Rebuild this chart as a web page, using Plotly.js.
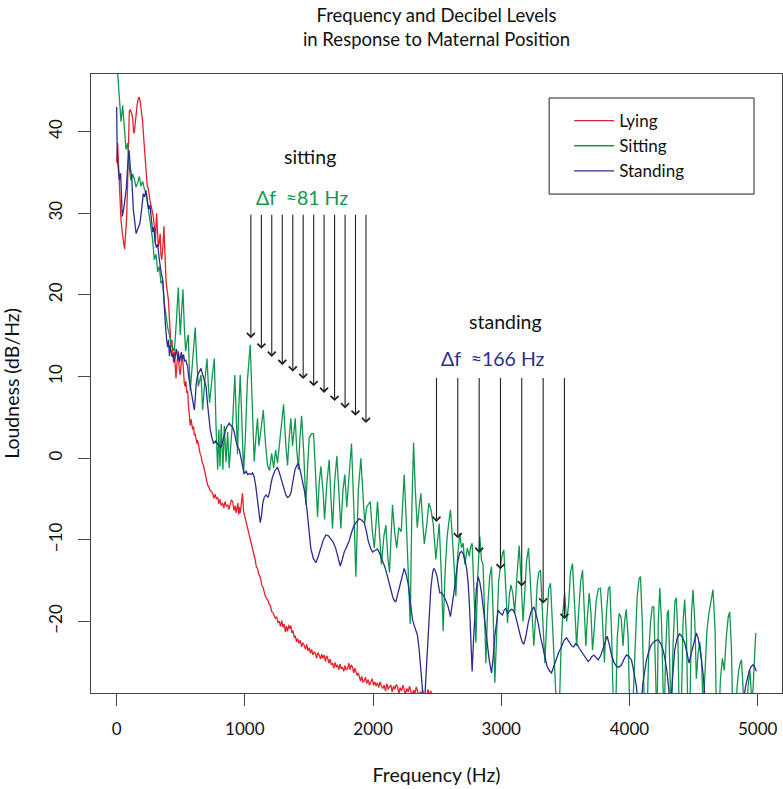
<!DOCTYPE html>
<html><head><meta charset="utf-8">
<script src="https://cdn.plot.ly/plotly-3.0.1.min.js"></script>
<style>html,body{margin:0;padding:0;background:#fff}#chart{width:783px;height:789px}</style>
</head><body><div id="chart"></div>
<script>
// ---- data (frequency Hz, loudness dB/Hz) ----
const seriesNames = ['Lying', 'Sitting', 'Standing'];
const seriesColors = ['#E4222B', '#10984E', '#2B2F8C'];

const lyingData = [
[0,36.2],[8,38.6],[16,35.5],[21,33.7],[34,29.2],[45,27.5],[55,26.0],[62,25.6],[70,27.5],[78,29.5],[86,34.0],[91,37.5],[99,42.5],[107,42.7],[117,42.0],[125,41.7],[132,40.0],[138,39.8],[145,41.0],[151,42.2],[160,43.3],[170,44.1],[177,44.2],[185,43.5],[195,42.2],[203,41.2],[212,39.0],[221,36.8],[230,35.0],[239,33.3],[247,33.0],[254,32.0],[260,31.6],[268,31.0],[276,30.5],[286,29.6],[294,28.4],[302,26.3],[307,28.6],[312,30.0],[318,28.0],[325,25.9],[333,26.5],[340,27.5],[345,25.0],[351,24.3],[359,25.5],[365,27.5],[369,28.4],[372,27.0],[378,23.5],[385,21.8],[392,20.8],[403,19.5],[412,17.0],[418,15.0],[424,13.6],[431,14.5],[437,12.5],[444,11.7],[450,13.0],[456,11.0],[463,9.8],[470,11.5],[476,12.8],[481,13.1],[488,11.0],[496,10.2],[503,11.5],[509,12.6],[515,12.2],[522,10.0],[528,9.2],[533,8.8],[540,9.4],[547,8.0],[554,8.3],[560,6.5],[567,5.0],[574,4.0],[580,4.8],[587,3.6],[593,3.5],[600,3.9],[606,2.8],[612,3.0],[619,2.5],[626,1.8],[632,2.2],[640,1.3],[645,1.1],[652,0.5],[660,0.2],[668,-0.6],[676,-0.8],[684,-1.4],[692,-2.2],[700,-2.6],[710,-3.3],[720,-3.5],[730,-4.0],[740,-4.1],[749,-4.3],[758,-4.9],[768,-4.4],[778,-5.0],[788,-4.8],[797,-5.6],[806,-5.0],[816,-5.8],[827,-5.5],[836,-6.1],[845,-5.3],[855,-5.9],[866,-5.7],[875,-6.3],[885,-5.6],[895,-5.1],[905,-5.3],[915,-6.4],[925,-5.8],[932,-6.7],[938,-6.2],[946,-5.5],[952,-6.9],[958,-6.0],[964,-6.7],[970,-5.8],[976,-4.9],[982,-4.3],[990,-6.5],[1001,-7.2],[1011,-7.9],[1021,-8.6],[1030,-9.3],[1038,-9.6],[1047,-10.1],[1055,-10.9],[1064,-11.3],[1073,-12.0],[1080,-12.4],[1090,-13.3],[1099,-13.5],[1108,-14.2],[1116,-14.4],[1125,-14.9],[1133,-15.6],[1142,-15.8],[1151,-16.4],[1160,-16.9],[1170,-17.2],[1180,-17.4],[1190,-17.9],[1200,-18.1],[1210,-18.8],[1220,-18.9],[1229,-19.3],[1238,-19.6],[1248,-19.4],[1258,-20.1],[1268,-20.0],[1278,-20.6],[1288,-19.9],[1297,-20.7],[1307,-20.3],[1316,-21.3],[1324,-20.6],[1333,-21.2],[1342,-20.4],[1350,-20.9],[1359,-20.5],[1367,-21.4],[1376,-21.1],[1385,-21.9],[1394,-21.8],[1403,-22.5],[1412,-22.1],[1424,-22.7],[1433,-22.3],[1443,-23.1],[1452,-22.6],[1463,-22.9],[1473,-23.4],[1483,-22.8],[1492,-23.6],[1502,-23.2],[1512,-23.9],[1521,-23.4],[1531,-24.1],[1541,-23.7],[1550,-23.9],[1560,-24.5],[1570,-23.8],[1580,-24.1],[1590,-24.6],[1600,-24.0],[1609,-24.5],[1619,-24.1],[1629,-24.9],[1638,-24.2],[1645,-24.4],[1655,-25.1],[1665,-24.6],[1675,-25.3],[1684,-25.1],[1694,-25.7],[1704,-25.0],[1714,-25.6],[1723,-25.3],[1733,-25.9],[1743,-25.2],[1752,-25.8],[1762,-25.6],[1772,-26.1],[1781,-25.4],[1791,-25.9],[1801,-25.8],[1811,-25.1],[1820,-25.9],[1830,-25.3],[1840,-25.6],[1850,-26.3],[1858,-25.7],[1866,-26.1],[1876,-26.6],[1885,-26.3],[1892,-26.8],[1902,-27.3],[1912,-26.7],[1921,-27.4],[1931,-27.3],[1941,-26.8],[1951,-27.6],[1962,-27.1],[1972,-27.8],[1983,-27.3],[1993,-27.0],[2004,-27.8],[2014,-27.4],[2024,-27.9],[2035,-27.5],[2045,-28.1],[2055,-27.4],[2066,-27.9],[2076,-28.2],[2087,-27.8],[2097,-28.5],[2108,-27.6],[2118,-28.3],[2129,-28.0],[2139,-27.8],[2149,-28.6],[2160,-27.9],[2170,-28.3],[2181,-27.7],[2191,-28.0],[2201,-28.8],[2212,-28.1],[2222,-28.5],[2233,-27.8],[2243,-28.3],[2253,-28.9],[2264,-28.2],[2274,-28.6],[2285,-27.9],[2295,-28.5],[2305,-29.2],[2316,-28.4],[2326,-28.8],[2337,-28.0],[2347,-28.5],[2357,-29.4],[2368,-28.6],[2378,-29.0],[2388,-28.4],[2399,-29.5],[2409,-30.0],[2420,-29.0],[2430,-28.3],[2441,-29.2],[2451,-28.5],[2462,-29.6],[2472,-28.8],[2483,-30.0]
];

const sittingData = [
[0,49.0],[21,44.4],[34,41.2],[47,43.2],[60,40.8],[73,37.8],[86,38.6],[99,35.4],[112,34.0],[125,34.8],[138,34.2],[151,33.2],[164,33.7],[177,34.5],[190,33.3],[203,33.9],[216,33.0],[229,32.4],[242,31.1],[255,29.8],[268,28.2],[281,26.7],[294,24.3],[307,25.0],[320,22.8],[333,23.5],[346,21.4],[359,21.8],[372,19.0],[385,17.5],[398,16.0],[411,15.2],[424,14.1],[437,13.6],[450,13.1],[465,16.5],[481,20.9],[496,15.1],[507,17.5],[517,20.7],[528,16.0],[538,13.1],[549,14.3],[559,15.1],[567,11.0],[574,8.3],[583,10.0],[593,12.2],[603,14.5],[613,16.0],[625,12.0],[637,8.8],[648,9.5],[658,10.2],[665,8.0],[671,5.9],[688,9.5],[705,12.2],[715,9.0],[725,6.8],[744,9.8],[762,12.2],[775,4.0],[788,-1.4],[797,3.5],[806,-1.0],[816,4.2],[829,-1.4],[840,4.0],[853,-0.5],[866,3.2],[878,-1.2],[892,2.0],[905,4.5],[922,10.2],[932,4.0],[943,0.5],[952,6.0],[964,10.2],[976,5.0],[990,-1.9],[1005,3.0],[1020,9.5],[1042,13.9],[1058,6.0],[1073,-0.4],[1086,2.5],[1099,4.9],[1110,1.5],[1125,3.5],[1144,5.9],[1160,2.0],[1177,-0.9],[1193,-1.5],[1209,0.6],[1225,-1.2],[1240,1.0],[1255,-0.6],[1270,2.0],[1285,4.5],[1302,6.6],[1318,2.0],[1333,-0.9],[1346,2.5],[1359,4.9],[1372,1.5],[1383,3.0],[1393,4.9],[1405,1.0],[1418,-1.4],[1430,2.5],[1443,5.2],[1460,0.5],[1476,-5.7],[1490,-1.0],[1502,2.5],[1520,3.0],[1536,3.0],[1552,-2.0],[1567,-7.2],[1580,-3.0],[1593,-1.0],[1610,-4.0],[1622,-7.5],[1640,-3.0],[1658,-0.2],[1672,-5.0],[1684,-8.6],[1700,-3.0],[1718,0.3],[1733,-4.0],[1749,-8.6],[1765,-4.0],[1780,-2.0],[1795,-6.0],[1810,-3.0],[1832,1.8],[1850,-6.0],[1866,-14.5],[1885,-4.0],[1905,0.0],[1920,-4.0],[1935,-8.0],[1950,-6.0],[1978,-5.3],[1995,-9.0],[2010,-11.0],[2035,-5.3],[2050,-9.5],[2065,-13.0],[2085,-9.5],[2100,-8.2],[2115,-12.0],[2128,-14.0],[2152,-5.7],[2168,-9.0],[2185,-11.0],[2200,-8.5],[2220,-9.0],[2243,-2.0],[2260,-8.0],[2276,-14.0],[2290,-20.3],[2303,-6.0],[2316,1.9],[2330,-4.0],[2345,-8.5],[2360,-6.0],[2373,-4.3],[2388,-8.0],[2400,-10.5],[2420,-8.0],[2435,-5.5],[2451,-6.2],[2469,-8.0],[2490,-12.4],[2516,-8.0],[2532,-14.0],[2547,-21.2],[2562,-14.0],[2578,-9.6],[2590,-8.0],[2604,-6.3],[2620,-10.0],[2633,-13.0],[2646,-16.9],[2660,-12.0],[2677,-9.2],[2690,-11.0],[2703,-10.4],[2716,-13.0],[2735,-11.0],[2750,-12.0],[2762,-10.8],[2773,-10.4],[2788,-16.0],[2802,-22.6],[2818,-14.0],[2833,-9.6],[2846,-12.5],[2858,-13.0],[2868,-18.0],[2880,-25.1],[2895,-18.0],[2910,-14.5],[2924,-13.3],[2937,-19.0],[2950,-27.5],[2965,-22.0],[2980,-15.0],[2992,-13.5],[3005,-12.0],[3020,-11.2],[3034,-15.0],[3049,-20.2],[3062,-17.0],[3075,-15.5],[3090,-16.5],[3105,-19.0],[3120,-15.0],[3140,-10.7],[3155,-15.0],[3170,-20.0],[3185,-16.0],[3198,-12.5],[3213,-11.0],[3228,-15.5],[3240,-19.0],[3254,-23.0],[3268,-19.5],[3280,-15.5],[3292,-14.0],[3306,-13.7],[3322,-19.0],[3340,-25.1],[3355,-20.0],[3370,-16.0],[3384,-15.3],[3398,-20.0],[3412,-26.0],[3425,-28.5],[3440,-32],[3451,-32],[3465,-24.0],[3480,-19.0],[3495,-16.5],[3510,-20.0],[3525,-18.0],[3540,-14.0],[3556,-12.9],[3572,-17.5],[3588,-23.0],[3603,-19.0],[3620,-15.0],[3634,-13.7],[3648,-18.5],[3660,-23.0],[3672,-19.5],[3686,-16.5],[3700,-19.0],[3712,-23.5],[3725,-21.0],[3740,-17.5],[3757,-16.0],[3774,-15.9],[3790,-20.0],[3805,-25.0],[3820,-19.0],[3835,-16.0],[3847,-15.7],[3862,-22.0],[3878,-33],[3890,-33],[3905,-22.0],[3920,-19.0],[3935,-19.5],[3950,-23.0],[3962,-20.0],[3975,-18.5],[3990,-22.0],[4005,-33],[4020,-33],[4040,-24.0],[4060,-17.0],[4075,-14.8],[4086,-14.5],[4100,-20.0],[4112,-27.0],[4120,-33],[4135,-33],[4150,-24.0],[4165,-20.0],[4178,-18.2],[4190,-18.2],[4205,-25.0],[4215,-33],[4225,-20.0],[4237,-15.9],[4250,-20.0],[4262,-27.0],[4270,-33],[4282,-24.0],[4295,-19.0],[4304,-18.6],[4315,-24.0],[4326,-33],[4340,-23.0],[4355,-17.5],[4366,-17.1],[4378,-22.0],[4390,-33],[4402,-33],[4418,-20.0],[4431,-17.3],[4445,-22.0],[4458,-33],[4470,-33],[4484,-19.0],[4496,-16.1],[4510,-20.0],[4522,-27.0],[4535,-24.0],[4548,-22.5],[4562,-24.5],[4575,-31],[4590,-25.0],[4605,-21.0],[4620,-19.0],[4636,-17.5],[4652,-16.1],[4668,-21.0],[4680,-33],[4695,-33],[4710,-27.0],[4725,-24.5],[4740,-26.0],[4755,-22.0],[4770,-19.5],[4782,-18.8],[4795,-23.0],[4808,-33],[4822,-33],[4840,-28.0],[4852,-26.0],[4865,-25.0],[4874,-24.7],[4886,-28.0],[4898,-33],[4910,-33],[4925,-28.0],[4940,-26.0],[4955,-30.0],[4965,-28.0],[4975,-24.0],[4985,-21.4]
];

const standingData = [
[0,43.0],[5,36.9],[13,35.5],[21,34.1],[31,34.9],[44,29.6],[55,30.5],[65,31.6],[75,33.0],[87,36.0],[97,37.7],[107,35.5],[117,34.5],[130,30.5],[143,28.8],[152,27.5],[161,27.9],[172,28.5],[182,28.8],[195,30.5],[208,32.4],[218,32.0],[229,32.8],[240,31.5],[250,30.5],[260,31.0],[270,29.0],[281,27.7],[290,28.3],[300,26.5],[310,25.8],[320,26.2],[333,24.3],[342,23.0],[350,22.5],[359,21.9],[366,19.5],[372,18.0],[380,16.5],[390,14.5],[398,13.6],[405,14.5],[412,12.5],[418,13.8],[424,13.1],[432,12.4],[440,12.8],[450,11.9],[458,12.6],[465,13.4],[470,13.1],[477,12.0],[484,12.8],[490,11.8],[496,12.2],[505,13.0],[513,12.1],[522,12.7],[530,11.9],[540,12.0],[548,11.5],[554,11.2],[562,10.0],[572,9.0],[580,8.3],[590,7.0],[598,6.4],[606,5.9],[614,7.5],[620,9.0],[632,10.2],[645,10.6],[658,11.0],[670,10.3],[682,9.5],[697,8.8],[710,6.5],[720,4.8],[730,3.5],[742,2.6],[756,1.8],[770,2.1],[788,1.8],[800,1.5],[814,1.3],[826,2.0],[840,3.0],[852,3.6],[866,4.0],[878,4.3],[892,4.0],[905,3.8],[918,3.2],[932,2.0],[945,1.4],[957,1.0],[970,0.0],[982,-1.0],[995,-1.9],[1010,-1.6],[1022,-2.0],[1034,-1.9],[1048,-2.0],[1060,-1.8],[1073,-2.3],[1086,-3.5],[1099,-5.3],[1110,-7.0],[1120,-7.9],[1130,-7.0],[1140,-5.5],[1151,-4.8],[1165,-4.5],[1182,-4.8],[1195,-4.0],[1205,-3.0],[1216,-2.3],[1235,-1.5],[1255,-1.1],[1270,-1.8],[1283,-2.5],[1294,-3.1],[1310,-4.0],[1320,-4.5],[1333,-4.8],[1345,-4.7],[1359,-4.3],[1375,-3.0],[1391,-1.4],[1405,-0.9],[1417,-0.6],[1432,-1.5],[1450,-2.8],[1465,-4.0],[1484,-6.2],[1500,-8.5],[1515,-11.1],[1535,-12.3],[1554,-12.8],[1573,-12.0],[1593,-11.1],[1612,-10.0],[1632,-9.4],[1652,-9.5],[1671,-9.9],[1690,-10.3],[1710,-11.1],[1728,-12.3],[1744,-13.2],[1760,-12.4],[1775,-11.5],[1795,-10.8],[1814,-10.1],[1834,-9.0],[1853,-8.2],[1872,-7.8],[1892,-7.4],[1912,-7.6],[1931,-7.9],[1946,-8.8],[1962,-10.1],[1980,-11.0],[1996,-11.5],[2015,-11.3],[2035,-11.1],[2055,-11.8],[2074,-12.5],[2094,-13.4],[2113,-14.5],[2133,-15.8],[2152,-16.9],[2165,-17.4],[2178,-17.6],[2195,-16.5],[2212,-15.4],[2228,-14.2],[2243,-13.5],[2258,-14.2],[2274,-15.4],[2290,-17.5],[2308,-19.8],[2328,-20.8],[2347,-21.7],[2360,-23.5],[2373,-25.6],[2384,-28.0],[2394,-31],[2405,-29.0],[2420,-24.6],[2435,-19.5],[2451,-15.9],[2465,-14.0],[2474,-13.5],[2487,-13.8],[2500,-14.5],[2510,-15.5],[2521,-16.5],[2535,-16.5],[2552,-16.9],[2570,-17.5],[2586,-18.2],[2604,-19.4],[2620,-17.8],[2634,-16.1],[2650,-14.0],[2664,-12.4],[2677,-11.6],[2690,-11.4],[2703,-11.7],[2716,-12.4],[2730,-13.5],[2742,-15.3],[2752,-18.0],[2760,-21.0],[2767,-24.0],[2773,-26.1],[2783,-22.5],[2794,-19.0],[2806,-16.0],[2820,-14.5],[2833,-15.2],[2846,-16.5],[2860,-18.3],[2872,-20.2],[2890,-22.8],[2906,-24.7],[2924,-26.3],[2937,-24.5],[2950,-21.8],[2963,-20.0],[2976,-18.6],[2993,-19.0],[3010,-19.2],[3023,-18.6],[3036,-18.4],[3050,-19.0],[3062,-18.8],[3078,-18.5],[3093,-18.6],[3106,-19.0],[3119,-19.8],[3135,-21.0],[3150,-21.8],[3163,-22.5],[3176,-22.8],[3192,-21.8],[3210,-20.2],[3232,-18.8],[3254,-18.2],[3270,-19.0],[3288,-20.2],[3308,-22.0],[3327,-23.5],[3342,-24.6],[3358,-25.5],[3375,-26.0],[3392,-26.3],[3410,-25.5],[3426,-24.7],[3448,-23.8],[3470,-23.1],[3490,-22.3],[3509,-22.0],[3522,-22.4],[3535,-22.6],[3550,-23.0],[3566,-23.1],[3580,-22.7],[3592,-22.8],[3610,-23.3],[3626,-23.7],[3645,-24.2],[3665,-24.7],[3678,-24.9],[3691,-24.7],[3706,-24.3],[3722,-24.1],[3740,-24.5],[3756,-24.7],[3775,-24.2],[3795,-23.3],[3810,-22.5],[3826,-21.8],[3843,-22.8],[3860,-24.1],[3880,-25.0],[3899,-25.5],[3918,-25.6],[3938,-25.3],[3958,-24.6],[3977,-24.1],[3997,-24.3],[4016,-24.7],[4030,-25.8],[4042,-26.7],[4055,-28.0],[4068,-31],[4088,-31],[4105,-27.5],[4120,-25.8],[4133,-24.7],[4152,-23.6],[4172,-22.8],[4198,-22.4],[4224,-22.2],[4244,-22.7],[4263,-23.5],[4280,-24.8],[4294,-26.3],[4308,-28.5],[4320,-31],[4336,-27.0],[4353,-23.5],[4372,-22.0],[4392,-21.5],[4412,-21.9],[4431,-22.6],[4448,-23.8],[4465,-25.1],[4481,-24.0],[4496,-23.1],[4510,-22.0],[4522,-21.4],[4535,-22.0],[4548,-23.1],[4562,-24.8],[4574,-26.3],[4585,-28.5],[4595,-31],[4700,-31],[4880,-31],[4905,-28.0],[4920,-27.1],[4935,-26.0],[4950,-25.5],[4964,-25.3],[4978,-25.6],[4990,-26.1]
];

// annotation arrows: harmonic spacing markers
const sittingArrowFreq = [1047,1129,1210,1292,1374,1455,1537,1618,1700,1782,1863,1945];
const sittingArrowTip  = [14.7,13.4,12.4,11.4,10.6,9.7,8.8,8.0,7.0,6.1,5.2,4.3];
const sittingArrowTop  = 30.0;
const standingArrowFreq = [2495,2661,2828,2994,3160,3327,3493];
const standingArrowTip  = [-7.8,-9.8,-11.6,-13.6,-15.7,-17.8,-19.7];
const standingArrowTop  = 10.0;

const xTicks = [0,1000,2000,3000,4000,5000];
const yTicks = [-20,-10,0,10,20,30,40];

// ---- build ----
const FONT = 'Lato, "Open Sans", sans-serif';
const allData = [lyingData, sittingData, standingData];
const traces = allData.map((d, i) => ({
  type: 'scatter', mode: 'lines', name: seriesNames[i],
  x: d.map(p => p[0]), y: d.map(p => p[1]),
  line: {color: seriesColors[i], width: 1.3},
  hoverinfo: 'x+y+name'
}));

const arrowStyle = {xref: 'x', yref: 'y', axref: 'x', ayref: 'y', text: '', showarrow: true,
  arrowhead: 4, arrowsize: 1.4, arrowwidth: 1.1, arrowcolor: '#222'};
const annotations = [];
sittingArrowFreq.forEach((f, i) => annotations.push(Object.assign({
  x: f, y: sittingArrowTip[i], ax: f, ay: sittingArrowTop}, arrowStyle)));
standingArrowFreq.forEach((f, i) => annotations.push(Object.assign({
  x: f, y: standingArrowTip[i], ax: f, ay: standingArrowTop}, arrowStyle)));
annotations.push(
  {x: 1505, y: 36.9, xref: 'x', yref: 'y', text: 'sitting', showarrow: false, font: {family: FONT, size: 19.5, color: '#111'}},
  {x: 1445, y: 31.9, xref: 'x', yref: 'y', text: 'Δf  ≈81 Hz', showarrow: false, font: {family: FONT, size: 19.5, color: seriesColors[1]}},
  {x: 3030, y: 16.8, xref: 'x', yref: 'y', text: 'standing', showarrow: false, font: {family: FONT, size: 19.5, color: '#111'}},
  {x: 2937, y: 12.2, xref: 'x', yref: 'y', text: 'Δf  ≈166 Hz', showarrow: false, font: {family: FONT, size: 19.5, color: seriesColors[2]}}
);

const layout = {
  width: 783, height: 789,
  margin: {l: 91, r: 1, t: 74, b: 96, pad: 0},
  paper_bgcolor: '#fff', plot_bgcolor: '#fff',
  font: {family: FONT, size: 16, color: '#111'},
  title: {text: 'Frequency and Decibel Levels<br>in Response to Maternal Position',
          font: {family: FONT, size: 18.5, color: '#111'},
          x: 0.5, xref: 'paper', xanchor: 'center', y: 0.972, yref: 'container', yanchor: 'top'},
  xaxis: {range: [-200, 5190], tickmode: 'array', tickvals: xTicks, showgrid: false, zeroline: false,
          showline: true, mirror: true, linecolor: '#444', linewidth: 1,
          ticks: 'outside', ticklen: 12, tickwidth: 1, tickcolor: '#444', ticklabelstandoff: 9,
          tickfont: {family: FONT, size: 17, color: '#111'},
          title: {text: 'Frequency (Hz)', standoff: 29, font: {family: FONT, size: 19.5, color: '#111'}}},
  yaxis: {range: [-28.75, 47.05], tickmode: 'array', tickvals: yTicks, showgrid: false, zeroline: false,
          showline: true, mirror: true, linecolor: '#444', linewidth: 1,
          ticks: 'outside', ticklen: 12, tickwidth: 1, tickcolor: '#444', tickangle: -90, ticklabelstandoff: 9,
          tickfont: {family: FONT, size: 17, color: '#111'},
          title: {text: 'Loudness (dB/Hz)', standoff: 25, font: {family: FONT, size: 19.5, color: '#111'}}},
  showlegend: true,
  legend: {x: 0.692, y: 0.953, xanchor: 'left', yanchor: 'top', bgcolor: 'rgba(0,0,0,0)', borderwidth: 0,
           font: {family: FONT, size: 17, color: '#111'}, itemwidth: 40, tracegroupgap: 0},
  shapes: [{type: 'rect', xref: 'paper', yref: 'paper', x0: 0.663, x1: 0.9595, y0: 0.806, y1: 0.9612,
            line: {color: '#222', width: 1}, fillcolor: 'rgba(0,0,0,0)'}],
  annotations: annotations
};

Plotly.newPlot('chart', traces, layout, {displayModeBar: false, staticPlot: true});
</script></body></html>
